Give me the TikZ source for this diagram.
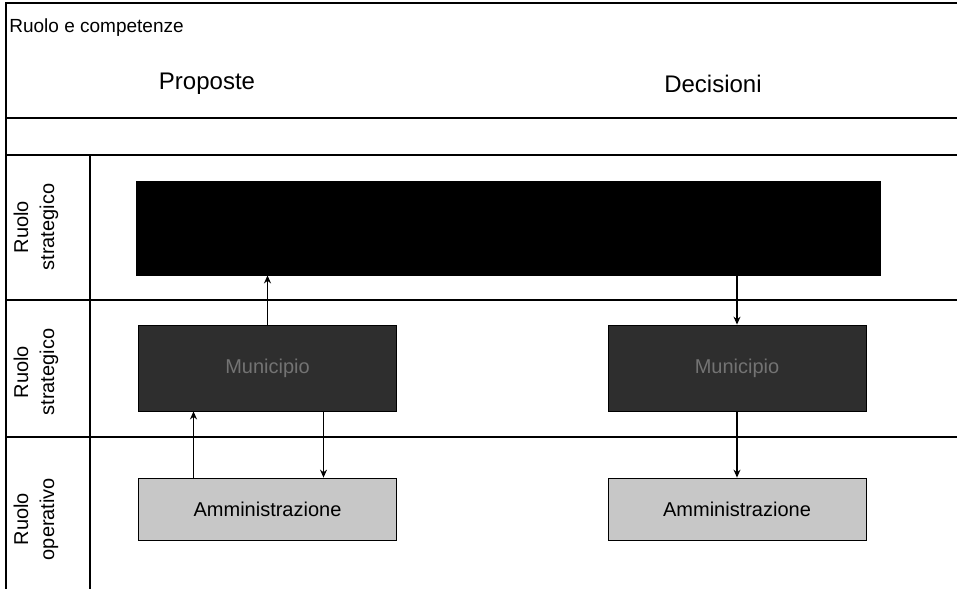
\documentclass[tikz,border=0pt]{standalone}
\usepackage{fontspec}
\setmainfont{Liberation Sans}
\usetikzlibrary{arrows.meta, positioning}
\tikzset{
    x=0.5pt, y=-0.5pt,
    rule/.style={line width=0.6pt}, % lines of the table
    topbox/.style={draw, fill=black, minimum width=372pt, minimum height=47pt, inner sep=0pt},
    midbox/.style={draw, fill=black!82, text=black!55, minimum width=129pt, minimum height=43pt, inner sep=0pt, font=\fontsize{10}{12}\selectfont},
    lowbox/.style={draw, fill=black!22, minimum width=129pt, minimum height=31pt, inner sep=0pt, font=\fontsize{10}{12}\selectfont},
    rowlabel/.style={rotate=90, align=center, font=\fontsize{10}{13}\selectfont},
    link/.style={-{Stealth[length=4pt, width=3.5pt]}, line width=0.6pt},
}
\begin{document}
\begin{tikzpicture}
\useasboundingbox (0,0) rectangle (957,589);
% frame of the table
\draw[rule] (957,3) -- (6,3) -- (6,589);
\draw[rule] (6,118) -- (957,118);
\draw[rule] (6,155) -- (957,155);
\draw[rule] (6,300) -- (957,300);
\draw[rule] (6,437) -- (957,437);
\draw[rule] (90,155) -- (90,589);
% headings
\node[anchor=west, inner sep=0pt, font=\fontsize{9.5}{11}\selectfont] (title) at (9,28) {Ruolo e competenze};
\node[font=\fontsize{12}{14}\selectfont] (prop) at (207,84) {Proposte};
\node[font=\fontsize{12}{14}\selectfont] (dec) at (713,84) {Decisioni};
% row labels
\node[rowlabel] (r1) at (36,227) {Ruolo\\strategico};
\node[rowlabel] (r2) at (36,372) {Ruolo\\strategico};
\node[rowlabel] (r3) at (36,519) {Ruolo\\operativo};
% boxes
\node[topbox] (top) at (508.5,228) {};
\node[midbox] (ml) at (267.5,368) {Municipio};
\node[midbox] (mr) at (737,368) {Municipio};
\node[lowbox] (al) at (267.5,509) {Amministrazione};
\node[lowbox] (ar) at (737,509) {Amministrazione};
% connectors
\draw[link] (ml.north) -- (ml.north |- top.south);
\draw[link] (mr.north |- top.south) -- (mr.north);
\draw[link] ([xshift=-37pt]al.north) -- ([xshift=-37pt]ml.south);
\draw[link] ([xshift=28pt]ml.south) -- ([xshift=28pt]al.north);
\draw[link] (mr.south) -- (ar.north);
\end{tikzpicture}
\end{document}
